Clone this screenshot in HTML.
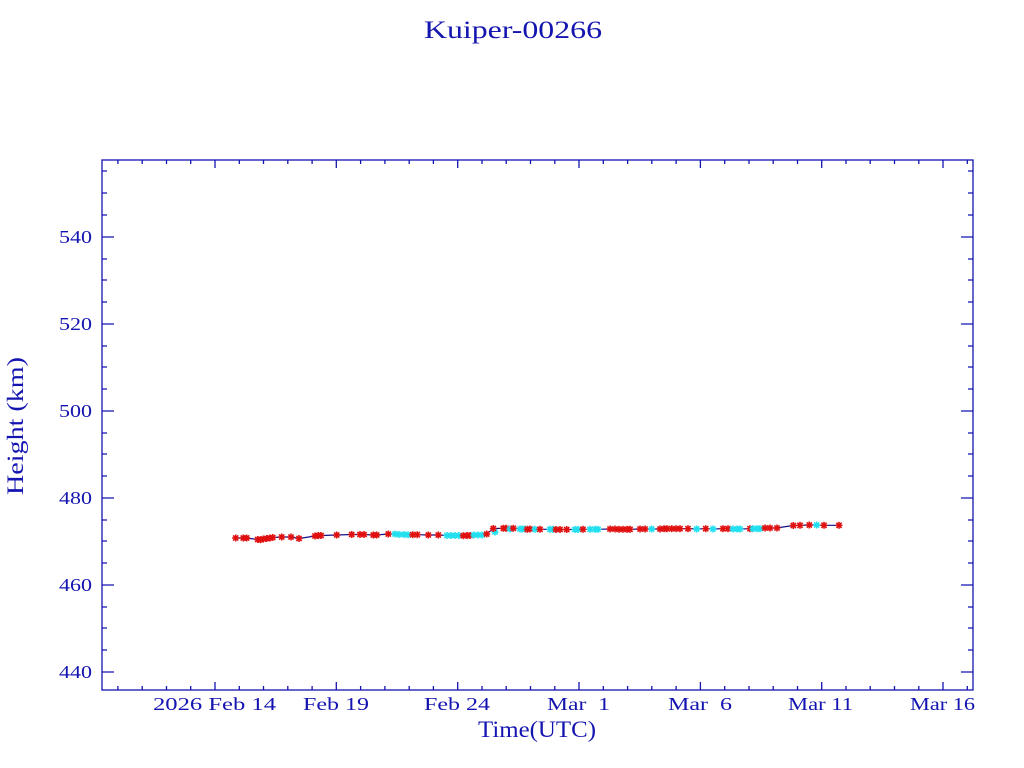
<!DOCTYPE html>
<html><head><meta charset="utf-8"><style>
html,body{margin:0;padding:0;background:#fff;}
svg{display:block;}
text{font-family:"Liberation Serif",serif;fill:#1414b0;white-space:pre;}
</style></head><body>
<svg width="1024" height="768" viewBox="0 0 1024 768" xmlns="http://www.w3.org/2000/svg">
<defs>
<g id="r" stroke="#e01010" stroke-width="1.6"><line x1="-3.5" y1="0" x2="3.5" y2="0"/><line x1="0" y1="-3.5" x2="0" y2="3.5"/><line x1="-2.6" y1="-2.6" x2="2.6" y2="2.6"/><line x1="-2.6" y1="2.6" x2="2.6" y2="-2.6"/></g>
<g id="c" stroke="#20e0f0" stroke-width="1.6"><line x1="-3.5" y1="0" x2="3.5" y2="0"/><line x1="0" y1="-3.5" x2="0" y2="3.5"/><line x1="-2.6" y1="-2.6" x2="2.6" y2="2.6"/><line x1="-2.6" y1="2.6" x2="2.6" y2="-2.6"/></g>
</defs>
<rect x="0" y="0" width="1024" height="768" fill="#fff"/>
<text x="424" y="38" font-size="25" textLength="178" lengthAdjust="spacingAndGlyphs">Kuiper-00266</text>

<g stroke="#1414b0" stroke-width="1.3" fill="none">
<rect x="102" y="160" width="871" height="530"/>
<!-- y major ticks -->
<path d="M102 237h12M102 324h12M102 411h12M102 498h12M102 585h12M102 672h12M973 237h-12M973 324h-12M973 411h-12M973 498h-12M973 585h-12M973 672h-12"/>
<!-- y minor -->
<path d="M102 171h5M102 193h5M102 215h5M102 259h5M102 280h5M102 302h5M102 346h5M102 367h5M102 389h5M102 433h5M102 454h5M102 476h5M102 520h5M102 541h5M102 563h5M102 607h5M102 628h5M102 650h5
M973 171h-5M973 193h-5M973 215h-5M973 259h-5M973 280h-5M973 302h-5M973 346h-5M973 367h-5M973 389h-5M973 433h-5M973 454h-5M973 476h-5M973 520h-5M973 541h-5M973 563h-5M973 607h-5M973 628h-5M973 650h-5"/>
<!-- x major -->
<path d="M215 690v-8M336.3 690v-8M457.7 690v-8M579 690v-8M700.4 690v-8M821.7 690v-8M943 690v-8
M215 160v8M336.3 160v8M457.7 160v8M579 160v8M700.4 160v8M821.7 160v8M943 160v8"/>
<!-- x minor -->
<path d="M117.9 690v-4M142.2 690v-4M166.5 690v-4M190.7 690v-4M239.3 690v-4M263.5 690v-4M287.8 690v-4M312.1 690v-4M360.6 690v-4M384.9 690v-4M409.2 690v-4M433.4 690v-4M482 690v-4M506.2 690v-4M530.5 690v-4M554.8 690v-4M603.3 690v-4M627.6 690v-4M651.8 690v-4M676.1 690v-4M724.7 690v-4M749 690v-4M773.2 690v-4M797.5 690v-4M846 690v-4M870.2 690v-4M894.5 690v-4M918.8 690v-4M967.3 690v-4
M117.9 160v4M142.2 160v4M166.5 160v4M190.7 160v4M239.3 160v4M263.5 160v4M287.8 160v4M312.1 160v4M360.6 160v4M384.9 160v4M409.2 160v4M433.4 160v4M482 160v4M506.2 160v4M530.5 160v4M554.8 160v4M603.3 160v4M627.6 160v4M651.8 160v4M676.1 160v4M724.7 160v4M749 160v4M773.2 160v4M797.5 160v4M846 160v4M870.2 160v4M894.5 160v4M918.8 160v4M967.3 160v4"/>
</g>

<g font-size="18">
<text x="59" y="243" textLength="33" lengthAdjust="spacingAndGlyphs">540</text>
<text x="59" y="330" textLength="33" lengthAdjust="spacingAndGlyphs">520</text>
<text x="59" y="417" textLength="33" lengthAdjust="spacingAndGlyphs">500</text>
<text x="59" y="504" textLength="33" lengthAdjust="spacingAndGlyphs">480</text>
<text x="59" y="591" textLength="33" lengthAdjust="spacingAndGlyphs">460</text>
<text x="59" y="678" textLength="33" lengthAdjust="spacingAndGlyphs">440</text>

<text x="153" y="710" textLength="123" lengthAdjust="spacingAndGlyphs">2026 Feb 14</text>
<text x="303" y="710" textLength="66" lengthAdjust="spacingAndGlyphs">Feb 19</text>
<text x="424" y="710" textLength="66" lengthAdjust="spacingAndGlyphs">Feb 24</text>
<text x="547" y="710" textLength="63" lengthAdjust="spacingAndGlyphs">Mar  1</text>
<text x="668" y="710" textLength="64" lengthAdjust="spacingAndGlyphs">Mar  6</text>
<text x="788" y="710" textLength="65" lengthAdjust="spacingAndGlyphs">Mar 11</text>
<text x="910" y="710" textLength="65" lengthAdjust="spacingAndGlyphs">Mar 16</text>
</g>
<text x="478" y="737" font-size="23" textLength="118" lengthAdjust="spacingAndGlyphs">Time(UTC)</text>
<text transform="translate(23,495) rotate(-90)" x="0" y="0" font-size="23" textLength="138" lengthAdjust="spacingAndGlyphs">Height (km)</text>

<polyline fill="none" stroke="#10108a" stroke-width="1.2" points="235.7,538 243.3,538 246.7,538 257.7,539.5 260.7,539.7 263.3,539 266.7,538.5 270,538 272.7,537.5 281.7,537 291,537 299,538.5 315,536 318.3,535.5 321,535.5 336.7,535 351.7,534.5 360,534.5 364,534.5 373.3,535 376.7,535 388.3,534 395,534 399,534.5 404,534.5 408,534.8 412.7,534.7 417.3,534.7 428.3,535 438.3,535 447,535.5 451,535.5 455,535.5 459,535.5 463.3,535.7 467,535.5 470,535.5 474,535 478,535 482,535 486.7,534 493.3,528.5 503.3,528.3 506,528.3 510,529 513.3,528.3 520,529 522,529 525,529 527.3,529.3 530,529 535,529.3 540,529.3 550,529.3 553,529.3 556,529.5 560,529.5 566.7,529.5 575,529.5 578,529.5 583,529.3 590,529.3 595,529.3 598,529.3 610,529 615,529 619,529.3 623,529.3 627,529.3 630,529.3 640,529 645,529 651.7,529 660,529 664,528.7 667,528.7 671.7,528.7 676,528.7 680,528.7 688,528.7 696.7,529 705.7,528.7 713,529 723,528.7 728,528.7 733,529 737,529 740,529 750,528.7 753,528.7 757,528.7 760,528.7 765,528 770,528 777,528 783,527 793.3,525.5 800,525.3 809.3,525 816.7,525 824,525.3 839,525.3"/>

<g>
<use href="#r" x="235.7" y="538"/><use href="#r" x="243.3" y="538"/><use href="#r" x="246.7" y="538"/><use href="#r" x="257.7" y="539.5"/><use href="#r" x="260.7" y="539.7"/><use href="#r" x="263.3" y="539"/><use href="#r" x="266.7" y="538.5"/><use href="#r" x="270" y="538"/><use href="#r" x="272.7" y="537.5"/><use href="#r" x="281.7" y="537"/><use href="#r" x="291" y="537"/><use href="#r" x="299" y="538.5"/><use href="#r" x="315" y="536"/><use href="#r" x="318.3" y="535.5"/><use href="#r" x="321" y="535.5"/><use href="#r" x="336.7" y="535"/><use href="#r" x="351.7" y="534.5"/><use href="#r" x="360" y="534.5"/><use href="#r" x="364" y="534.5"/><use href="#r" x="373.3" y="535"/><use href="#r" x="376.7" y="535"/><use href="#r" x="388.3" y="534"/>
<use href="#c" x="395" y="534"/><use href="#c" x="399" y="534.5"/><use href="#c" x="404" y="534.5"/><use href="#c" x="408" y="534.8"/>
<use href="#r" x="412.7" y="534.7"/><use href="#r" x="417.3" y="534.7"/><use href="#r" x="428.3" y="535"/><use href="#r" x="438.3" y="535"/>
<use href="#c" x="447" y="535.5"/><use href="#c" x="451" y="535.5"/><use href="#c" x="455" y="535.5"/><use href="#c" x="459" y="535.5"/>
<use href="#r" x="463.3" y="535.7"/><use href="#r" x="467" y="535.5"/><use href="#r" x="470" y="535.5"/>
<use href="#c" x="474" y="535"/><use href="#c" x="478" y="535"/><use href="#c" x="482" y="535"/>
<use href="#r" x="486.7" y="534"/><use href="#c" x="495" y="532"/>
<use href="#r" x="493.3" y="528.5"/><use href="#r" x="503.3" y="528.3"/><use href="#r" x="506" y="528.3"/><use href="#c" x="510" y="529"/><use href="#r" x="513.3" y="528.3"/>
<use href="#c" x="520" y="529"/><use href="#c" x="522" y="529"/><use href="#c" x="525" y="529"/>
<use href="#r" x="527.3" y="529.3"/><use href="#r" x="530" y="529"/><use href="#c" x="535" y="529.3"/><use href="#r" x="540" y="529.3"/>
<use href="#c" x="550" y="529.3"/><use href="#c" x="553" y="529.3"/><use href="#r" x="556" y="529.5"/><use href="#r" x="560" y="529.5"/><use href="#r" x="566.7" y="529.5"/>
<use href="#c" x="575" y="529.5"/><use href="#c" x="578" y="529.5"/><use href="#r" x="583" y="529.3"/>
<use href="#c" x="590" y="529.3"/><use href="#c" x="595" y="529.3"/><use href="#c" x="598" y="529.3"/>
<use href="#r" x="610" y="529"/><use href="#r" x="615" y="529"/><use href="#r" x="619" y="529.3"/><use href="#r" x="623" y="529.3"/><use href="#r" x="627" y="529.3"/><use href="#r" x="630" y="529.3"/>
<use href="#r" x="640" y="529"/><use href="#r" x="645" y="529"/><use href="#c" x="651.7" y="529"/>
<use href="#r" x="660" y="529"/><use href="#r" x="664" y="528.7"/><use href="#r" x="667" y="528.7"/><use href="#r" x="671.7" y="528.7"/><use href="#r" x="676" y="528.7"/><use href="#r" x="680" y="528.7"/><use href="#r" x="688" y="528.7"/>
<use href="#c" x="696.7" y="529"/><use href="#r" x="705.7" y="528.7"/><use href="#c" x="713" y="529"/>
<use href="#r" x="723" y="528.7"/><use href="#r" x="728" y="528.7"/>
<use href="#c" x="733" y="529"/><use href="#c" x="737" y="529"/><use href="#c" x="740" y="529"/>
<use href="#r" x="750" y="528.7"/><use href="#c" x="753" y="528.7"/><use href="#c" x="757" y="528.7"/><use href="#c" x="760" y="528.7"/>
<use href="#r" x="765" y="528"/><use href="#r" x="770" y="528"/><use href="#r" x="777" y="528"/>
<use href="#r" x="793.3" y="525.5"/><use href="#r" x="800" y="525.3"/><use href="#r" x="809.3" y="525"/><use href="#c" x="816.7" y="525"/><use href="#r" x="824" y="525.3"/><use href="#r" x="839" y="525.3"/>
</g>
</svg>
</body></html>
